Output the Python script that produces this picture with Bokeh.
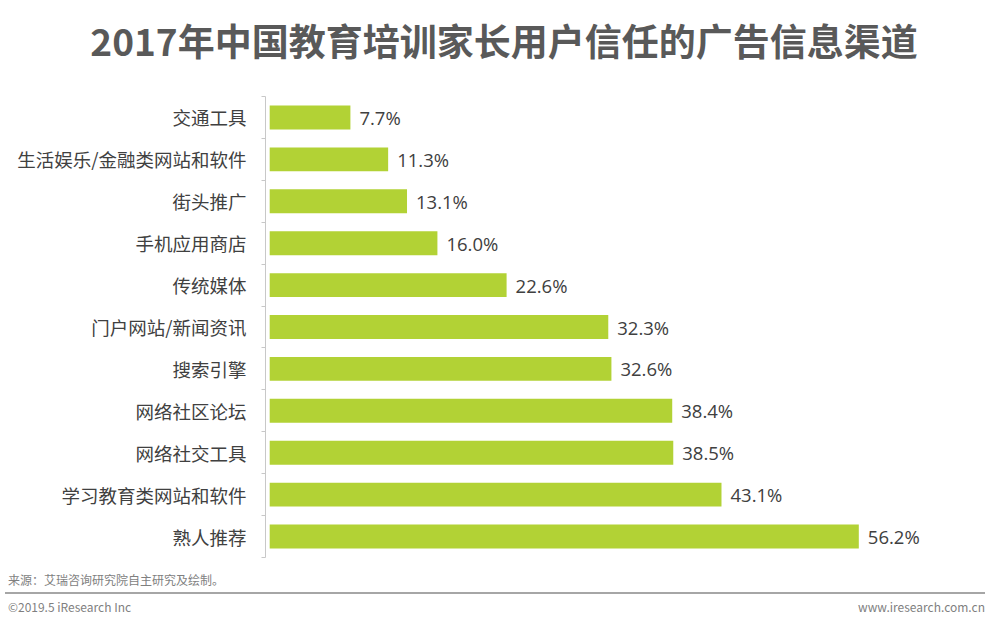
from bokeh.plotting import figure
from bokeh.layouts import column
from bokeh.models import (Range1d, FixedTicker, ColumnDataSource, CustomJSTickFormatter, Div)
from bokeh.core.properties import value
from bokeh.embed import file_html
from bokeh.resources import INLINE

title_text = "2017年中国教育培训家长用户信任的广告信息渠道"
categories = ["交通工具", "生活娱乐/金融类网站和软件", "街头推广", "手机应用商店", "传统媒体",
              "门户网站/新闻资讯", "搜索引擎", "网络社区论坛", "网络社交工具",
              "学习教育类网站和软件", "熟人推荐"]
values = [7.7, 11.3, 13.1, 16.0, 22.6, 32.3, 32.6, 38.4, 38.5, 43.1, 56.2]
source_note = "来源：艾瑞咨询研究院自主研究及绘制。"
copyright_note = "©2019.5 iResearch Inc"
site_note = "www.iresearch.com.cn"

n = len(categories)
cats_bottom_up = categories[::-1]
vals_bottom_up = values[::-1]
pos_bottom_up = [i + 0.5 for i in range(n)]
labels_bottom_up = [f"{v:.1f}%" for v in vals_bottom_up]

W = 992
TOP_H, MAIN_H, FOOT_H = 90, 475, 50

# ---- title strip
top_html = (
    f'<div style="position:relative;width:{W}px;height:{TOP_H}px;margin:0;padding:0;">'
    '<div style="position:absolute;left:0;top:0;width:1008px;height:80px;line-height:80px;'
    "text-align:center;white-space:nowrap;font-family:'Noto Sans CJK SC';font-weight:bold;"
    f'font-size:37px;color:#595959;">{title_text}</div></div>'
)
top = Div(text=top_html, width=W, height=TOP_H, margin=0)

# ---- main chart
FL = 265
p = figure(width=W, height=MAIN_H, output_backend="svg", toolbar_location=None,
           x_range=Range1d(-0.4, 68.0), y_range=Range1d(0, n),
           x_axis_location=None,
           min_border_left=FL, min_border_right=10, min_border_top=6, min_border_bottom=8)
p.xgrid.visible = False
p.ygrid.visible = False
p.outline_line_color = None

ax = p.yaxis[0]
ax.ticker = FixedTicker(ticks=pos_bottom_up, minor_ticks=list(range(0, n + 1)))
ax.formatter = CustomJSTickFormatter(args=dict(names=cats_bottom_up),
                                     code="return names[Math.floor(tick)];")
ax.axis_line_color = "#c8c8c8"
ax.major_tick_line_color = None
ax.minor_tick_line_color = "#c8c8c8"
ax.minor_tick_in = 0
ax.minor_tick_out = 4
ax.major_label_standoff = 13
ax.major_label_text_font = "Noto Sans CJK SC"
ax.major_label_text_font_size = "18.5px"
ax.major_label_text_color = "#404040"

src = ColumnDataSource(dict(y=pos_bottom_up, val=vals_bottom_up, lab=labels_bottom_up))
p.hbar(y="y", right="val", left=0, height=0.57, source=src,
       fill_color="#b2d235", line_color=None)
p.text(x="val", y="y", text="lab", source=src, x_offset=9,
       text_baseline="middle", text_align="left", text_color="#404040",
       text_font=value("Open Sans"), text_font_size="18.5px")

# ---- footer strip
txt = "position:absolute;height:20px;line-height:20px;white-space:nowrap;" \
      "font-family:'Noto Sans CJK SC';font-size:12px;color:#7f7f7f;"
foot_html = (
    f'<div style="position:relative;width:{W}px;height:{FOOT_H}px;margin:0;padding:0;">'
    f'<div style="{txt}left:8px;top:5px;">{source_note}</div>'
    '<div style="position:absolute;left:5px;top:27px;width:980px;height:2px;background:#a6a6a6;"></div>'
    f'<div style="{txt}left:8px;top:32px;">{copyright_note}</div>'
    f'<div style="{txt}right:7px;top:32px;text-align:right;">{site_note}</div>'
    '</div>'
)
foot = Div(text=foot_html, width=W, height=FOOT_H, margin=0)

layout = column(top, p, foot, spacing=0)
open("out.html", "w").write(file_html(layout, INLINE))
